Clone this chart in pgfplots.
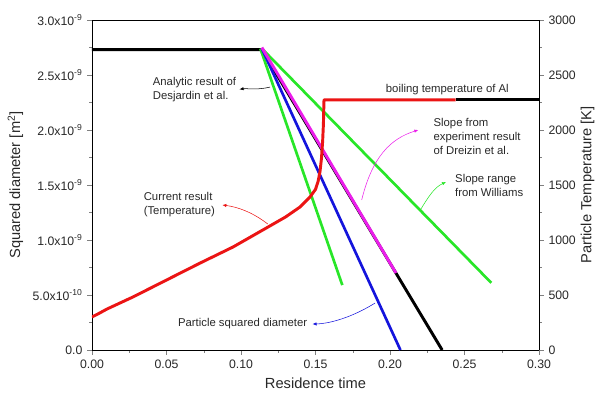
\documentclass[border=0pt]{standalone}
\usepackage{pgfplots}
\pgfplotsset{compat=1.18}
\usepackage{fontspec}
\setmainfont{Liberation Sans}
\usetikzlibrary{arrows.meta}
\definecolor{cred}{RGB}{235,20,20}
\definecolor{cgreen}{RGB}{40,230,40}
\definecolor{cblue}{RGB}{20,20,220}
\definecolor{cmag}{RGB}{235,30,235}
\definecolor{ctext}{RGB}{40,40,40}
\begin{document}
\begin{tikzpicture}
\pgfplotsset{
  common/.style={
    scale only axis, width=335.25pt, height=247.5pt,
    xmin=0, xmax=0.3,
    tick align=outside,
    major tick length=3.5pt, minor tick length=2pt,
    /pgf/number format/assume math mode=true,
    /pgf/number format/1000 sep={},
    tick label style={font=\fontsize{9.2}{11}\selectfont, text=ctext},
    label style={font=\fontsize{11}{13}\selectfont, text=ctext},
    every axis/.append style={line width=0.6pt},
  }
}
\begin{axis}[common,
  ymin=0, ymax=3,
  xtick={0,0.05,0.10,0.15,0.20,0.25,0.30},
  xticklabels={0.00,0.05,0.10,0.15,0.20,0.25,0.30},
  ytick={0,0.5,1,1.5,2,2.5,3},
  yticklabels={0.0,5.0x10\textsuperscript{-10},1.0x10\textsuperscript{-9},1.5x10\textsuperscript{-9},2.0x10\textsuperscript{-9},2.5x10\textsuperscript{-9},3.0x10\textsuperscript{-9}},
  minor x tick num=1, minor y tick num=1,
  xtick pos=bottom, ytick pos=left,
  xlabel={Residence time},
  ylabel={Squared diameter [m\textsuperscript{2}]},
]
% black: analytic result of Desjardin et al.
\addplot[black, line width=2.2pt] coordinates {(0,2.73) (0.114,2.73) (0.235,0)};
% green slope range from Williams
\addplot[cgreen, line width=2pt] coordinates {(0.113,2.74) (0.168,0.59)};
\addplot[cgreen, line width=2pt] coordinates {(0.114,2.74) (0.268,0.61)};
% blue: particle squared diameter
\addplot[cblue, line width=2pt] coordinates {(0.114,2.74) (0.207,0)};
% magenta: slope from experiment (Dreizin et al.)
\addplot[cmag, line width=2.2pt] coordinates {(0.114,2.75) (0.204,0.70)};

\node[anchor=west, align=left, font=\fontsize{8.5}{10.5}\selectfont, text=ctext] at (axis cs:0.0376,2.364) {Analytic result of\\Desjardin et al.};
\draw[black, thin, -{Latex[length=3pt,width=2.5pt]}] (axis cs:0.1195,2.39) .. controls (axis cs:0.110,2.36) and (axis cs:0.104,2.38) .. (axis cs:0.0990,2.37);
\node[anchor=west, font=\fontsize{8.5}{10.5}\selectfont, text=ctext] at (axis cs:0.194,2.364) {boiling temperature of Al};
\node[anchor=west, align=left, font=\fontsize{8.5}{10.2}\selectfont, text=ctext] at (axis cs:0.226,1.941) {Slope from\\experiment result\\of Dreizin et al.};
\draw[cmag, thin, -{Latex[length=3pt,width=2.5pt]}] (axis cs:0.181,1.364) .. controls (axis cs:0.188,1.75) and (axis cs:0.200,1.92) .. (axis cs:0.219,2.0);
\node[anchor=west, align=left, font=\fontsize{8.5}{10.5}\selectfont, text=ctext] at (axis cs:0.2405,1.50) {Slope range\\from Williams};
\draw[cgreen, thin, -{Latex[length=3pt,width=2.5pt]}] (axis cs:0.220,1.264) .. controls (axis cs:0.226,1.40) and (axis cs:0.230,1.48) .. (axis cs:0.2376,1.527);
\node[anchor=west, align=left, font=\fontsize{8.5}{10.5}\selectfont, text=ctext] at (axis cs:0.0315,1.318) {Current result\\(Temperature)};
\draw[cred, thin, -{Latex[length=3pt,width=2.5pt]}] (axis cs:0.118,1.145) .. controls (axis cs:0.108,1.25) and (axis cs:0.098,1.30) .. (axis cs:0.0875,1.318);
\node[anchor=west, font=\fontsize{8.5}{10.5}\selectfont, text=ctext] at (axis cs:0.0545,0.236) {Particle squared diameter};
\draw[cblue, thin, -{Latex[length=3pt,width=2.5pt]}] (axis cs:0.190,0.427) .. controls (axis cs:0.175,0.30) and (axis cs:0.160,0.24) .. (axis cs:0.148,0.236);

\coordinate (bl) at (rel axis cs:-0.2058,-0.1485);
\coordinate (tr) at (rel axis cs:1.1275,1.0606);
\end{axis}
\begin{axis}[common,
  ymin=0, ymax=3000,
  axis x line=none,
  axis y line*=right,
  ytick={0,500,1000,1500,2000,2500,3000},
  minor y tick num=1,
  ylabel={Particle Temperature [K]},
  ylabel style={at={(rel axis cs:1.1085,0.5)}, anchor=center, rotate=0},
]
% red: current result (temperature)
\addplot[cred, line width=2.2pt, line join=round] coordinates {
(0,300) (0.005,335) (0.01,372) (0.0275,482) (0.05,636) (0.0725,790) (0.0946,936)
(0.117,1109) (0.130,1210) (0.1396,1300) (0.1463,1391) (0.150,1460) (0.1517,1530)
(0.1530,1620) (0.1540,1740) (0.1548,1900) (0.1553,2050) (0.1557,2273) (0.244,2273)};
\addplot[black, line width=2.2pt] coordinates {(0.244,2273) (0.30,2273)};
\end{axis}
\pgfresetboundingbox
\path[use as bounding box] (bl) rectangle (tr);
\end{tikzpicture}
\end{document}
